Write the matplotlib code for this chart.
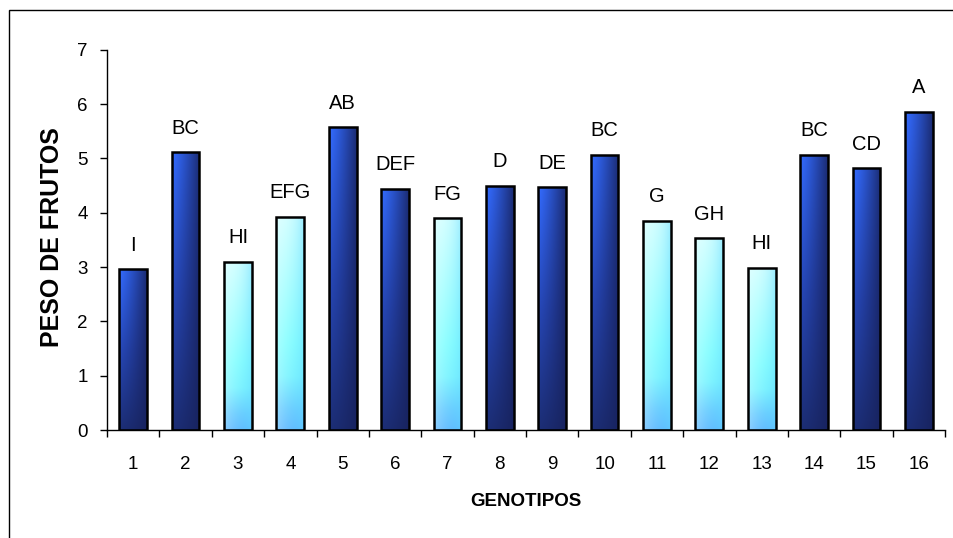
import numpy as np
import matplotlib
matplotlib.use('Agg')
import matplotlib.pyplot as plt
from matplotlib.patches import Rectangle

plt.rcParams['font.family'] = ['Liberation Sans', 'DejaVu Sans']

genotipos = [str(i) for i in range(1, 17)]
peso = [2.96, 5.11, 3.10, 3.93, 5.57, 4.44, 3.90, 4.50,
        4.47, 5.07, 3.85, 3.53, 2.99, 5.07, 4.82, 5.86]
letras = ['I', 'BC', 'HI', 'EFG', 'AB', 'DEF', 'FG', 'D',
          'DE', 'BC', 'G', 'GH', 'HI', 'BC', 'CD', 'A']
# light bars (not marked with a group ending in A-D)
claro = [False, False, True, True, False, False, True, False,
         False, False, True, True, True, False, False, False]


def grad_img(light, ny=200, nx=40):
    t = np.linspace(0, 1, ny)[:, None]   # 0 bottom -> 1 top
    s = np.linspace(0, 1, nx)[None, :]   # 0 left -> 1 right
    if light:
        stops_t = [0.0, 0.1, 0.25, 0.4, 1.0]
        stops_c = [(0.36, 0.72, 1.0), (0.4, 0.8, 1.0), (0.48, 0.96, 1.0),
                   (0.52, 1.0, 1.0), (0.82, 1.0, 1.0)]
    else:
        stops_t = [0.0, 0.5, 1.0]
        stops_c = [(0.11, 0.18, 0.46), (0.15, 0.28, 0.72), (0.2, 0.42, 1.0)]
    img = np.zeros((ny, nx, 3))
    for k in range(3):
        col = np.interp(t[:, 0], stops_t, [c[k] for c in stops_c])[:, None]
        img[:, :, k] = col
    if light:
        white = np.array([1.0, 1.0, 1.0])
        edge = np.array([0.4, 0.85, 1.0])
        w = (0.3 * (1 - s) ** 2)[..., None]
        e = (0.5 * s ** 3)[..., None]
        img = img * (1 - w) + white * w
        img = img * (1 - e) + edge * e
    else:
        navy = np.array([0.09, 0.13, 0.36])
        m = (0.85 * s ** 1.2)[..., None]
        img = img * (1 - m) + navy * m
    return np.clip(img, 0, 1)


fig = plt.figure(figsize=(9.54, 5.38), dpi=100)
ax = fig.add_axes([0.1122, 0.2007, 0.9906 - 0.1122, 0.7069])

x = np.arange(1, 17)
bars = ax.bar(x, peso, width=0.53, facecolor='none', edgecolor='black',
              linewidth=1.8, zorder=3)
for b, light in zip(bars, claro):
    x0 = b.get_x()
    im = ax.imshow(grad_img(light), extent=[x0, x0 + b.get_width(), 0, b.get_height()],
                   origin='lower', aspect='auto', zorder=2, interpolation='bilinear')
    im.set_clip_path(b)

for xi, v, lt in zip(x, peso, letras):
    ax.annotate(lt, (xi, v), xytext=(0, 10.5), textcoords='offset points',
                ha='center', va='bottom', fontsize=14.5)

ax.set_xlim(0.5, 16.5)
ax.set_ylim(0, 7)
ax.set_yticks(range(0, 8))
ax.set_xticks(x)
ax.set_xticklabels(genotipos)
ax.set_xticks(np.arange(0.5, 17, 1), minor=True)
ax.tick_params(axis='x', which='major', length=0, pad=19, labelsize=13.5)
ax.tick_params(axis='x', which='minor', length=5, width=1, direction='out')
ax.tick_params(axis='y', length=5, width=1, direction='out', pad=9, labelsize=13.5)
for sp in ['top', 'right']:
    ax.spines[sp].set_visible(False)
ax.spines['left'].set_linewidth(1)
ax.spines['bottom'].set_linewidth(1)

fig.text(0.0545, 0.559, 'PESO DE FRUTOS', rotation=90, ha='center', va='center',
         fontsize=18, fontweight='bold')
fig.text(0.551, 0.067, 'GENOTIPOS', ha='center', va='center',
         fontsize=13.5, fontweight='bold')

fig.add_artist(Rectangle((9 / 954, -0.2), 1.2, 0.2 + 1 - 10 / 538,
                         transform=fig.transFigure, fill=False,
                         edgecolor='black', linewidth=1))

plt.savefig('out.png', dpi=100)
